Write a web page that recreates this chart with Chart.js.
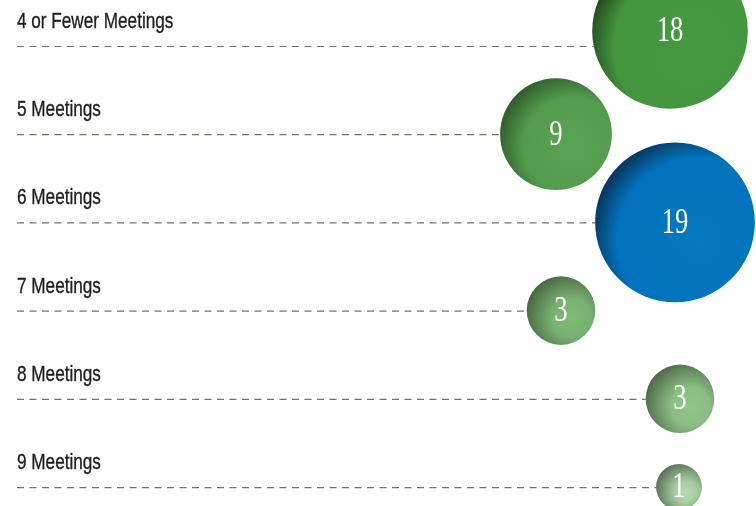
<!DOCTYPE html>
<html>
<head>
    <title>Meetings</title>
    <script src="https://cdn.jsdelivr.net/npm/chart.js@4.4.1/dist/chart.umd.min.js"></script>
    <style>
        body { margin: 0; background: #fff; }
        .chart-container { width: 756px; height: 506px; position: relative; }
    </style>
</head>
<body>
    <div class="chart-container">
        <canvas id="meetingChart"></canvas>
    </div>

    <script>
        // data
        const categories = ['4 or Fewer Meetings', '5 Meetings', '6 Meetings', '7 Meetings', '8 Meetings', '9 Meetings'];
        const counts = [18, 9, 19, 3, 3, 1];

        // layout: horizontal bubble position (px) and upward nudge (in rows)
        const bubbleX = [670, 556, 675, 561, 680, 679];
        const bubbleLift = [0.17, 0, 0, 0, 0, 0];

        // bubble shading: [highlight, base, shadow]
        const bubbleColors = [
            ['#46993f', '#43963e', '#23481f'],
            ['#58a352', '#539c4d', '#2f5a2b'],
            ['#0678c0', '#0073bc', '#0b3156'],
            ['#7fba78', '#78b272', '#48653f'],
            ['#92c48b', '#8bbd84', '#4d6848'],
            ['#b8dab2', '#a6cca0', '#566f57']
        ];

        const labelFont = "22px 'Liberation Sans', Arial, sans-serif";
        const numberFont = "36px 'Liberation Serif', 'DejaVu Serif', serif";

        // radius from count (area grows with the count)
        function radiusFor(v) {
            return Math.sqrt(200 + 325 * v);
        }

        const points = counts.map((v, i) => ({
            x: bubbleX[i],
            y: i - bubbleLift[i],
            r: radiusFor(v),
            v: v
        }));

        // radial shading: light toward lower right, dark rim at upper left
        function shade(context) {
            const chart = context.chart;
            const raw = context.raw;
            const cols = bubbleColors[context.dataIndex];
            if (!chart.chartArea || !raw) return cols[1];
            const cx = chart.scales.x.getPixelForValue(raw.x);
            const cy = chart.scales.y.getPixelForValue(raw.y);
            const r = raw.r;
            const gx = cx + r * 0.3, gy = cy + r * 0.22;
            const R = r * 1.38;
            const band = Math.max(0.35, (R - 28) / R);
            const g = chart.ctx.createRadialGradient(gx, gy, 0, gx, gy, R);
            g.addColorStop(0, cols[0]);
            g.addColorStop(band, cols[1]);
            g.addColorStop(1, cols[2]);
            return g;
        }

        // row labels and dashed leader lines
        const rowsPlugin = {
            id: 'rows',
            beforeDatasetsDraw(chart) {
                const { ctx, scales } = chart;
                ctx.save();
                categories.forEach((name, i) => {
                    const y = scales.y.getPixelForValue(i);
                    const p = points[i];
                    const cx = scales.x.getPixelForValue(p.x);
                    const cy = scales.y.getPixelForValue(p.y);
                    const dy = y - cy;
                    const xEnd = cx - Math.sqrt(Math.max(p.r * p.r - dy * dy, 0));

                    ctx.strokeStyle = '#7f6e66';
                    ctx.lineWidth = 1.2;
                    ctx.setLineDash([7, 5.5]);
                    ctx.beginPath();
                    ctx.moveTo(17, y + 0.5);
                    ctx.lineTo(xEnd, y + 0.5);
                    ctx.stroke();

                    // narrow label text
                    ctx.setLineDash([]);
                    ctx.fillStyle = '#1e1e1e';
                    ctx.strokeStyle = '#1e1e1e';
                    ctx.lineWidth = 0.35;
                    ctx.font = labelFont;
                    ctx.textAlign = 'left';
                    ctx.textBaseline = 'alphabetic';
                    ctx.save();
                    ctx.translate(17, y - 18);
                    ctx.scale(0.78, 1);
                    ctx.fillText(name, 0, 0);
                    ctx.strokeText(name, 0, 0);
                    ctx.restore();
                });
                ctx.restore();
            },
            afterDatasetsDraw(chart) {
                const { ctx, scales } = chart;
                ctx.save();
                ctx.fillStyle = '#ffffff';
                ctx.font = numberFont;
                ctx.textAlign = 'center';
                ctx.textBaseline = 'middle';
                points.forEach(p => {
                    const cx = scales.x.getPixelForValue(p.x);
                    const cy = scales.y.getPixelForValue(p.y);
                    ctx.save();
                    ctx.translate(cx, cy + 1);
                    ctx.scale(0.74, 1);
                    ctx.fillText(String(p.v), 0, 0);
                    ctx.restore();
                });
                ctx.restore();
            }
        };

        new Chart(document.getElementById('meetingChart'), {
            type: 'bubble',
            data: {
                datasets: [{
                    data: points,
                    backgroundColor: shade,
                    borderWidth: 0,
                    hoverRadius: 0
                }]
            },
            options: {
                responsive: true,
                maintainAspectRatio: false,
                animation: false,
                events: [],
                layout: { padding: 0, autoPadding: false },
                scales: {
                    x: { type: 'linear', display: false, min: 0, max: 756 },
                    y: { type: 'linear', display: false, min: -0.5215, max: 5.215, reverse: true }
                },
                plugins: {
                    legend: { display: false },
                    tooltip: { enabled: false }
                }
            },
            plugins: [rowsPlugin]
        });
    </script>
</body>
</html>
